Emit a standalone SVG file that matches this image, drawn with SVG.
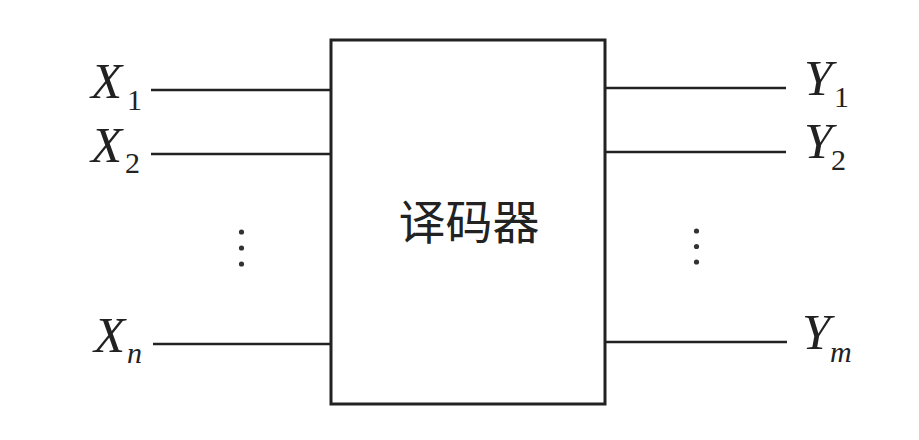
<svg xmlns="http://www.w3.org/2000/svg" width="919" height="440" viewBox="0 0 919 440">
<style>
.ln{stroke:#222;stroke-width:2.6;fill:none}
.box{stroke:#222;stroke-width:3;fill:#fff}
.v{font-family:"Liberation Serif","Times New Roman",serif;font-style:italic;font-size:51px;fill:#222}
.s{font-family:"Liberation Serif","Times New Roman",serif;font-size:30px;fill:#222}
.si{font-family:"Liberation Serif","Times New Roman",serif;font-style:italic;font-size:30px;fill:#222}
.cn{font-family:"Noto Sans CJK SC","Noto Sans CJK TC",sans-serif;font-size:47px;fill:#222;text-anchor:middle}
.dot{fill:#333}
</style>
<rect width="919" height="440" fill="#fff"/>
<g id="connectors">
<line class="ln" x1="151" y1="90" x2="331" y2="90"/>
<line class="ln" x1="151" y1="154" x2="331" y2="154"/>
<line class="ln" x1="153" y1="344" x2="331" y2="344"/>
<line class="ln" x1="605" y1="88" x2="786" y2="88"/>
<line class="ln" x1="605" y1="152" x2="786" y2="152"/>
<line class="ln" x1="605" y1="342" x2="787" y2="342"/>
</g>
<g id="decoder">
<rect class="box" x="331" y="40" width="274" height="364"/>
<text class="cn" x="469" y="239">译码器</text>
</g>
<g id="x1"><text class="v" x="91" y="98">X</text><text class="s" x="127" y="110">1</text></g>
<g id="x2"><text class="v" x="91" y="162">X</text><text class="s" x="125" y="173">2</text></g>
<g id="xn"><text class="v" x="94" y="352">X</text><text class="si" x="127" y="363">n</text></g>
<g id="y1"><text class="v" x="804" y="95">Y</text><text class="s" x="834" y="107">1</text></g>
<g id="y2"><text class="v" x="804" y="158">Y</text><text class="s" x="831" y="170">2</text></g>
<g id="ym"><text class="v" x="802" y="349">Y</text><text class="si" x="830" y="362">m</text></g>
<g id="dots-left">
<circle class="dot" cx="241.5" cy="232" r="2.6"/>
<circle class="dot" cx="241.5" cy="248" r="2.6"/>
<circle class="dot" cx="241.5" cy="264" r="2.6"/>
</g>
<g id="dots-right">
<circle class="dot" cx="696.5" cy="231" r="2.6"/>
<circle class="dot" cx="696.5" cy="246.5" r="2.6"/>
<circle class="dot" cx="696.5" cy="262" r="2.6"/>
</g>
</svg>
